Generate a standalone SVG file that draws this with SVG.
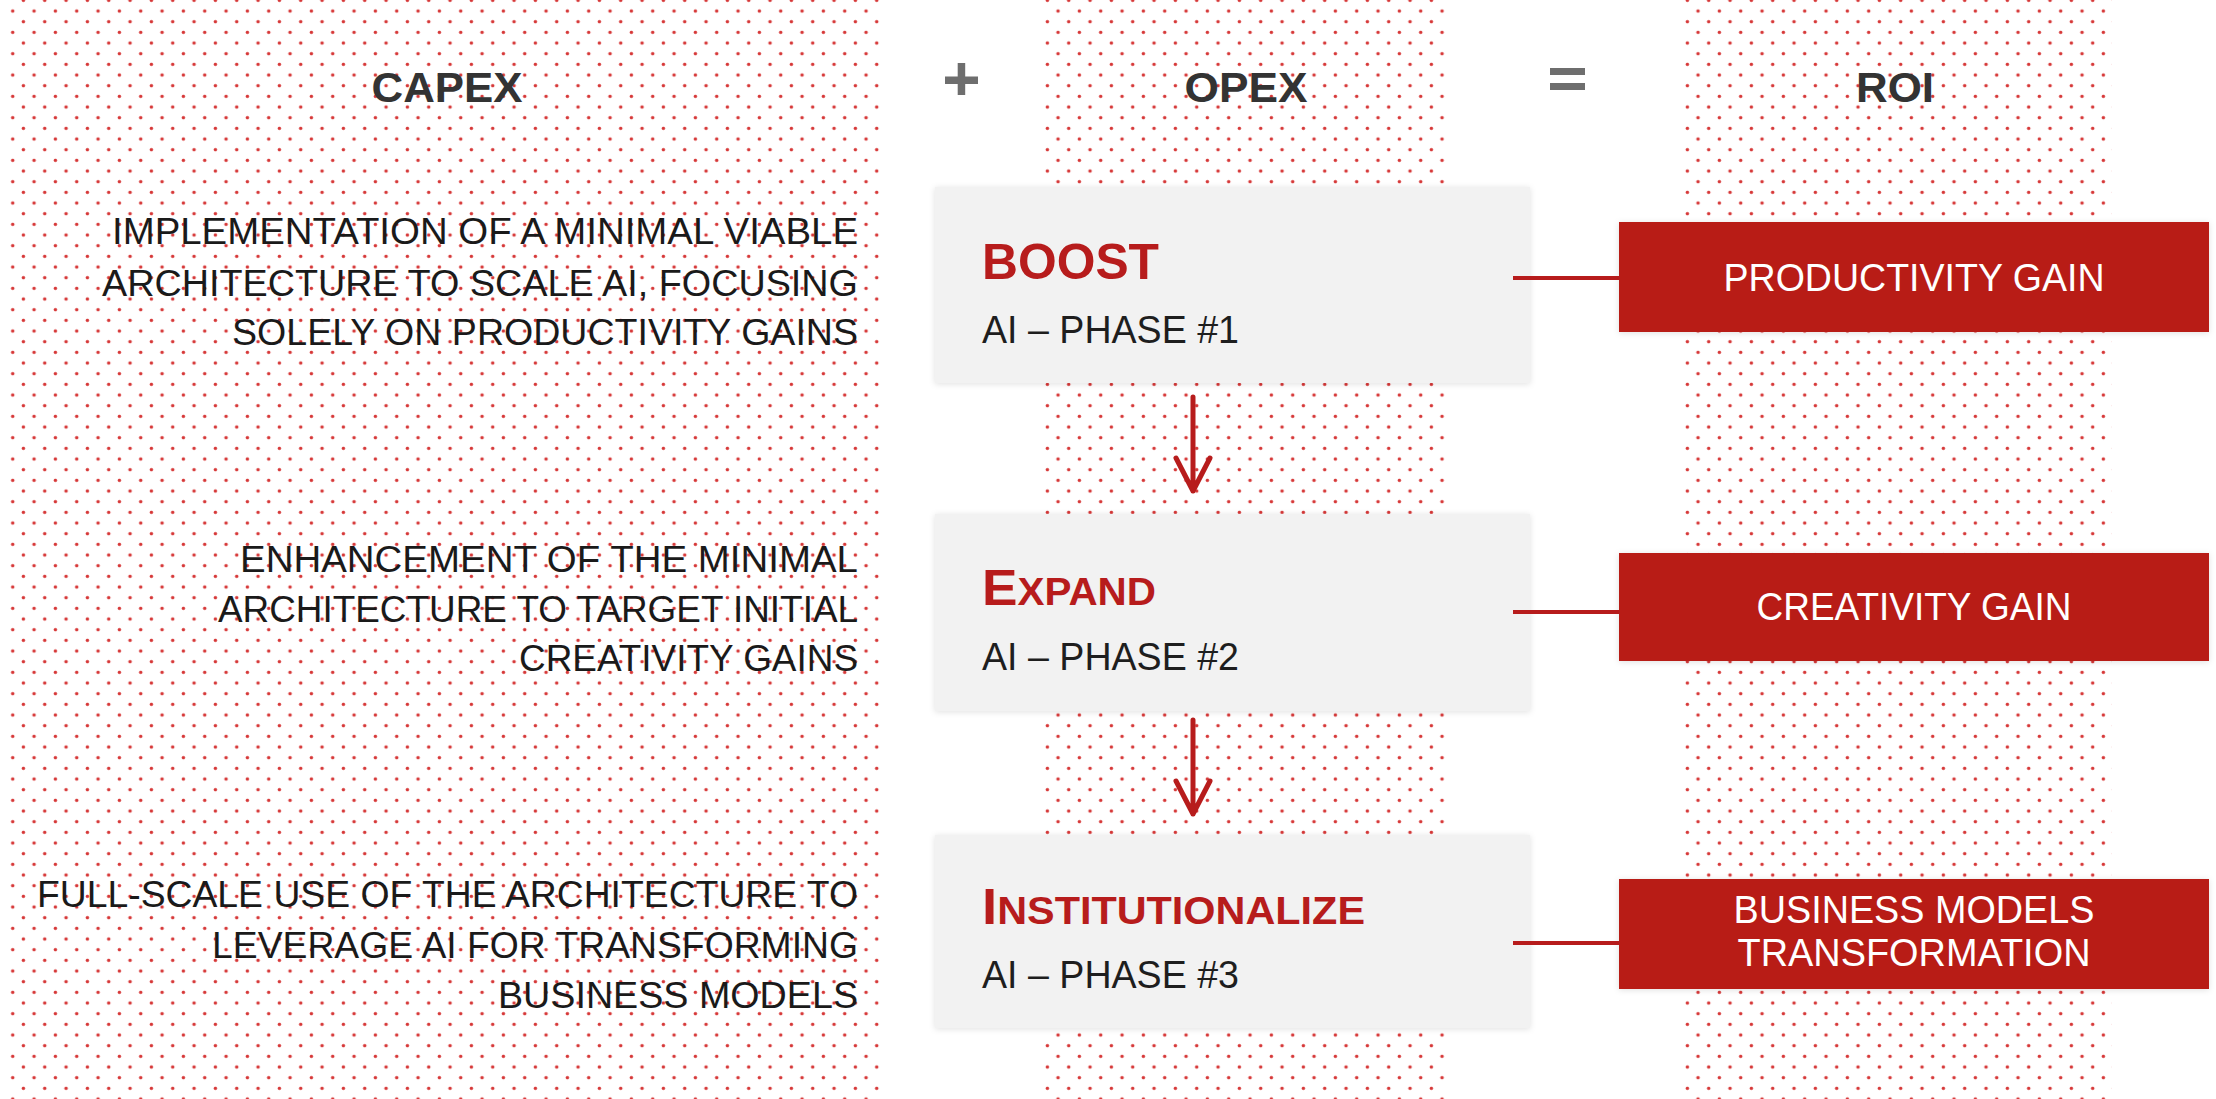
<svg xmlns="http://www.w3.org/2000/svg" width="2216" height="1099" viewBox="0 0 2216 1099">
<style>
.title{font-family:"Liberation Sans",Arial,sans-serif;font-weight:bold;font-size:43px;fill:#333333;text-anchor:middle}
.desc{font-family:"Liberation Sans",Arial,sans-serif;font-size:36px;fill:#1a1a1a;text-anchor:end}
.phase{font-family:"Liberation Sans",Arial,sans-serif;font-weight:bold;fill:#b71c1c}
.sub{font-family:"Liberation Sans",Arial,sans-serif;font-size:38px;fill:#1e1e1e}
.gain{font-family:"Liberation Sans",Arial,sans-serif;font-size:38px;fill:#ffffff;text-anchor:middle}
.gray{fill:#f2f2f2;filter:url(#soft)}
.red{fill:#b81a14;filter:url(#soft)}
.conn{stroke:#b71c1c;stroke-width:4;fill:none}
.arrow{stroke:#b71c1c;stroke-width:5;fill:none;stroke-linecap:round;stroke-linejoin:round}
.op{fill:#6e6e6e}
</style>
<defs>
<pattern id="dots" patternUnits="userSpaceOnUse" x="7.4" y="5.7" width="21.333" height="21.333">
<circle cx="5.333" cy="5.333" r="1.75" fill="#d63636"/>
<circle cx="16" cy="16" r="1.75" fill="#d63636"/>
</pattern>
<filter id="soft" x="-5%" y="-10%" width="110%" height="120%">
<feDropShadow dx="0" dy="1" stdDeviation="3" flood-color="#000000" flood-opacity="0.12"/>
</filter>
</defs>
<rect width="2216" height="1099" fill="#ffffff"/>
<g id="background">
<rect x="5" y="0" width="878" height="1099" fill="url(#dots)"/>
<rect x="1040" y="0" width="410" height="1099" fill="url(#dots)"/>
<rect x="1680" y="0" width="432" height="1099" fill="url(#dots)"/>
</g>
<g id="headers">
<text class="title" x="447" y="102" textLength="151" lengthAdjust="spacingAndGlyphs">CAPEX</text>
<g id="plus" class="op"><rect x="945" y="76.5" width="33" height="7.5"/><rect x="957.7" y="63" width="7.5" height="32"/></g>
<text class="title" x="1246" y="102" textLength="123" lengthAdjust="spacingAndGlyphs">OPEX</text>
<g id="equals" class="op"><rect x="1550" y="68" width="35" height="7"/><rect x="1550" y="83" width="35" height="7"/></g>
<text class="title" x="1895" y="102" textLength="78" lengthAdjust="spacingAndGlyphs">ROI</text>
</g>
<g id="capex1">
<text class="desc" x="858" y="244" textLength="746" lengthAdjust="spacingAndGlyphs">IMPLEMENTATION OF A MINIMAL VIABLE</text>
<text class="desc" x="858" y="296" textLength="756" lengthAdjust="spacingAndGlyphs">ARCHITECTURE TO SCALE AI, FOCUSING</text>
<text class="desc" x="858" y="345" textLength="626" lengthAdjust="spacingAndGlyphs">SOLELY ON PRODUCTIVITY GAINS</text>
</g>
<g id="capex2">
<text class="desc" x="858" y="572" textLength="618" lengthAdjust="spacingAndGlyphs">ENHANCEMENT OF THE MINIMAL</text>
<text class="desc" x="858" y="622" textLength="640" lengthAdjust="spacingAndGlyphs">ARCHITECTURE TO TARGET INITIAL</text>
<text class="desc" x="858" y="671" textLength="339" lengthAdjust="spacingAndGlyphs">CREATIVITY GAINS</text>
</g>
<g id="capex3">
<text class="desc" x="858" y="907" textLength="821" lengthAdjust="spacingAndGlyphs">FULL-SCALE USE OF THE ARCHITECTURE TO</text>
<text class="desc" x="858" y="958" textLength="646" lengthAdjust="spacingAndGlyphs">LEVERAGE AI FOR TRANSFORMING</text>
<text class="desc" x="858" y="1008" textLength="360" lengthAdjust="spacingAndGlyphs">BUSINESS MODELS</text>
</g>
<g id="boost">
<rect class="gray" x="935" y="187" width="595" height="196"/>
<text class="phase" x="982" y="279" font-size="50" textLength="177" lengthAdjust="spacingAndGlyphs">BOOST</text>
<text class="sub" x="982" y="343" textLength="257" lengthAdjust="spacingAndGlyphs">AI – PHASE #1</text>
</g>
<g id="expand">
<rect class="gray" x="935" y="514" width="595" height="197"/>
<text class="phase" x="982" y="605" font-size="50" textLength="174" lengthAdjust="spacingAndGlyphs">E<tspan font-size="38">XPAND</tspan></text>
<text class="sub" x="982" y="670" textLength="257" lengthAdjust="spacingAndGlyphs">AI – PHASE #2</text>
</g>
<g id="institutionalize">
<rect class="gray" x="935" y="835" width="595" height="193"/>
<text class="phase" x="982" y="924" font-size="50" textLength="383" lengthAdjust="spacingAndGlyphs">I<tspan font-size="38">NSTITUTIONALIZE</tspan></text>
<text class="sub" x="982" y="988" textLength="257" lengthAdjust="spacingAndGlyphs">AI – PHASE #3</text>
</g>
<g id="productivity">
<rect class="red" x="1619" y="222" width="590" height="110"/>
<text class="gain" x="1914" y="291" textLength="381" lengthAdjust="spacingAndGlyphs">PRODUCTIVITY GAIN</text>
</g>
<g id="creativity">
<rect class="red" x="1619" y="553" width="590" height="108"/>
<text class="gain" x="1914" y="620" textLength="315" lengthAdjust="spacingAndGlyphs">CREATIVITY GAIN</text>
</g>
<g id="business">
<rect class="red" x="1619" y="879" width="590" height="110"/>
<text class="gain" x="1914" y="923" textLength="361" lengthAdjust="spacingAndGlyphs">BUSINESS MODELS</text>
<text class="gain" x="1914" y="966" textLength="353" lengthAdjust="spacingAndGlyphs">TRANSFORMATION</text>
</g>
<g id="connectors">
<line class="conn" x1="1513" y1="278" x2="1620" y2="278"/>
<line class="conn" x1="1513" y1="612" x2="1620" y2="612"/>
<line class="conn" x1="1513" y1="943" x2="1620" y2="943"/>
<path class="arrow" d="M1193 397 V491 M1176 458 L1193 491 L1210 458"/>
<path class="arrow" d="M1193 720 V814 M1176 781 L1193 814 L1210 781"/>
</g>
</svg>
